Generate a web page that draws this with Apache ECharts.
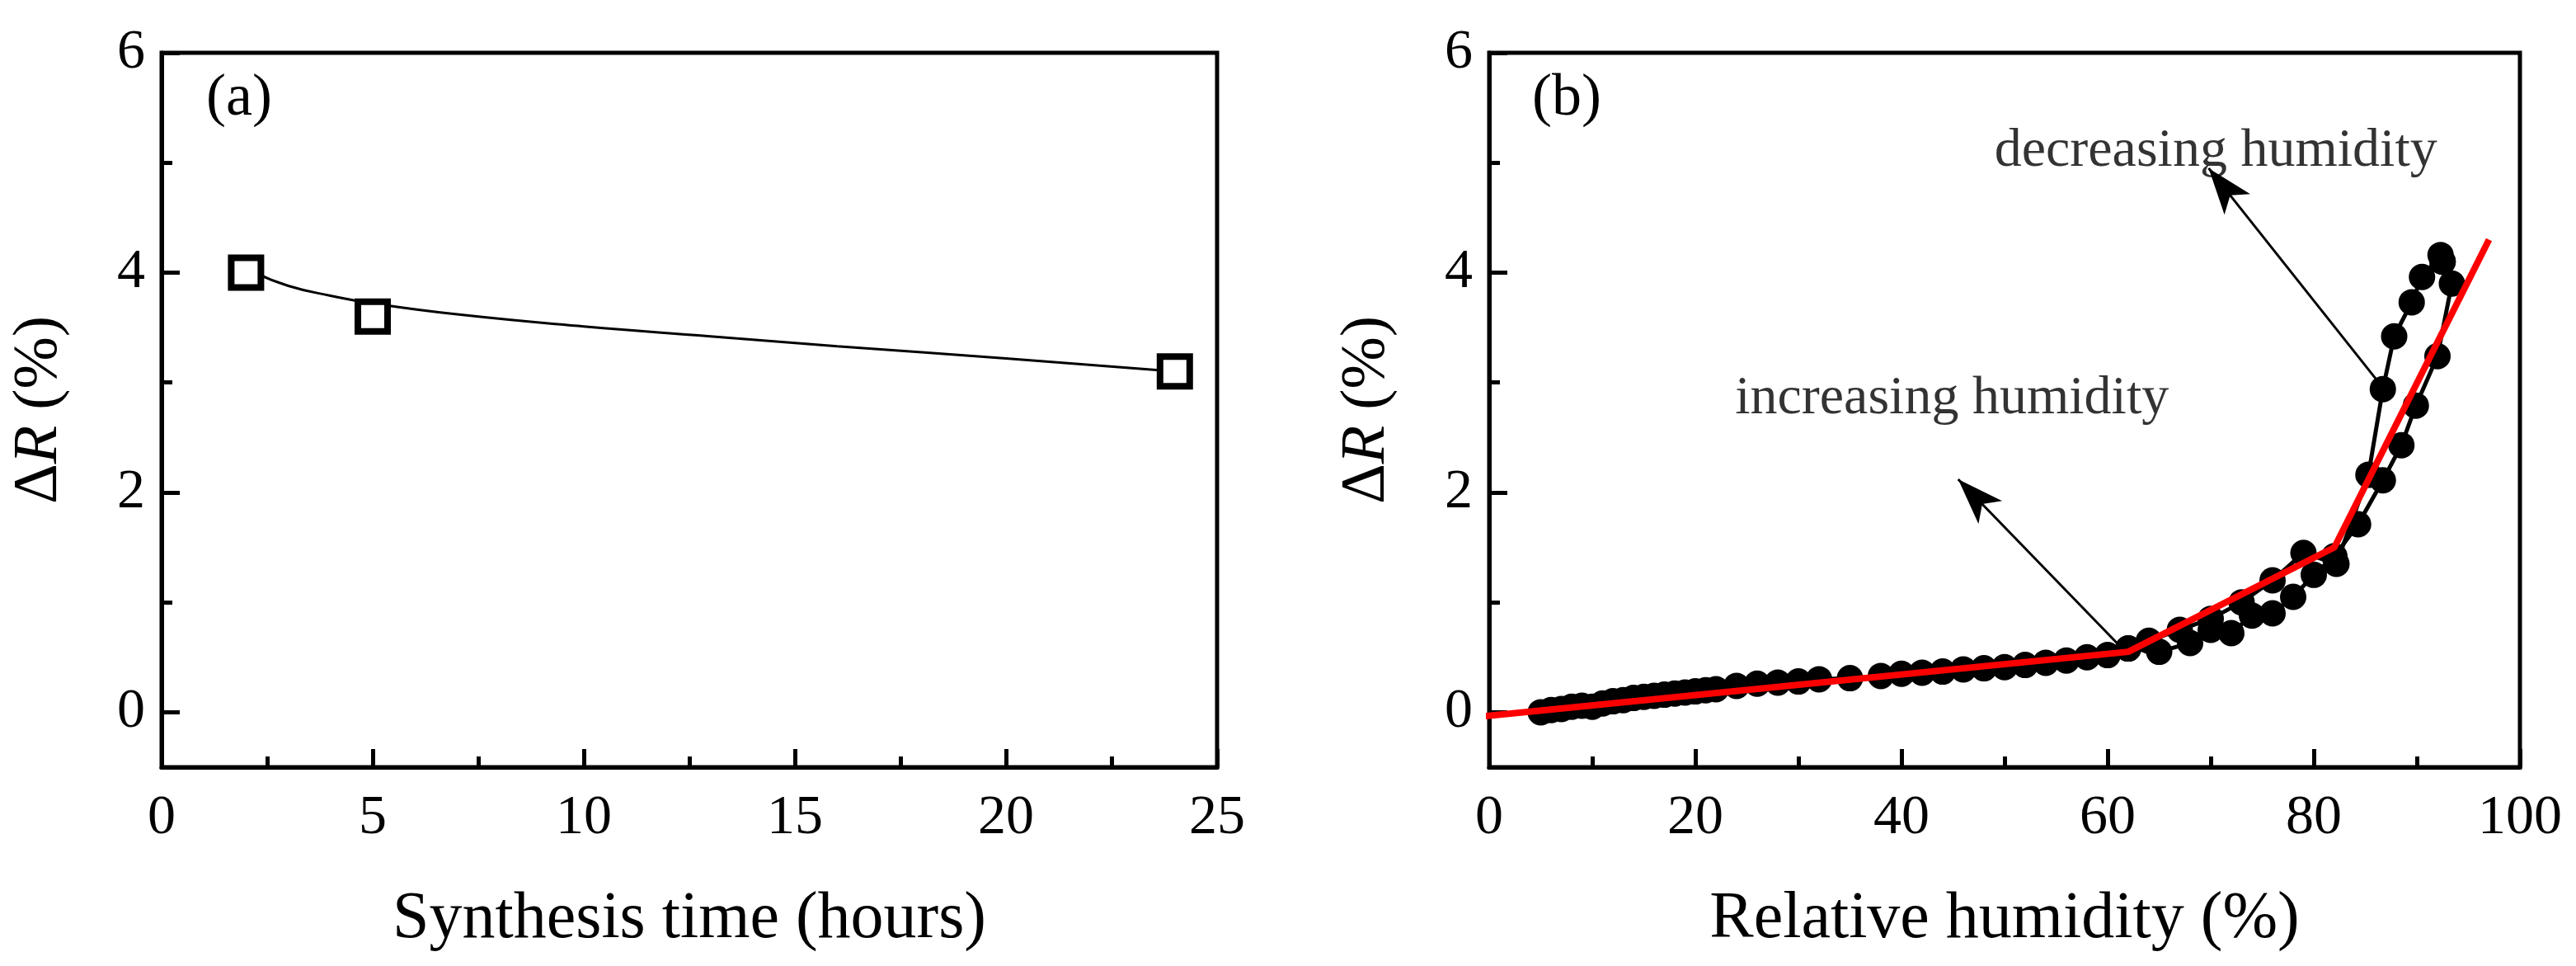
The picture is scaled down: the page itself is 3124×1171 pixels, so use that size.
<!DOCTYPE html>
<html>
<head>
<meta charset="utf-8">
<script src="https://cdn.jsdelivr.net/npm/echarts@6/dist/echarts.min.js"></script>
<style>html,body{margin:0;background:#fff}#main{width:3124px;height:1171px}</style>
</head>
<body>
<div id="main"></div>
<script>
// panel (a): synthesis time vs ΔR
var timeHours = [2, 5, 24];
var deltaRA = [4.0, 3.6, 3.1];
var fitA = [[2.2, 4.0], [3, 3.88], [4, 3.79], [5, 3.72], [7, 3.62], [10, 3.51], [13, 3.42], [16, 3.33], [20, 3.22], [24, 3.1]];

// panel (b): relative humidity sweep
var rhUp = [[5,0],[6,0.02],[7,0.03],[8,0.05],[9,0.06],[10,0.05],[11,0.08],[12,0.1],[13,0.11],[14,0.13],[15,0.14],[16,0.15],[17,0.16],[18,0.17],[19,0.18],[20,0.19],[21,0.2],[22,0.21],[24,0.24],[26,0.26],[28,0.27],[30,0.28],[32,0.3],[35,0.31],[38,0.33],[40,0.35],[42,0.36],[44,0.37],[46,0.39],[48,0.4],[50,0.41],[52,0.43],[54,0.45],[56,0.47],[58,0.5],[60,0.52],[62,0.58],[65,0.55],[68,0.63],[70,0.75],[72,0.72],[74,0.88],[76,0.9],[78,1.05],[80,1.25],[82,1.42],[84.3,1.71],[86.7,2.11],[88.5,2.43],[89.9,2.79],[92,3.24],[93.4,3.9],[92.5,4.1]];
var rhDown = [[92.5,4.1],[92.3,4.16],[90.5,3.96],[89.5,3.73],[87.8,3.42],[86.7,2.94],[85.3,2.16],[82.2,1.35],[79,1.45],[76,1.2],[73,1.0],[70,0.85],[67,0.75],[64,0.65],[62,0.58]];
var fitB = [[-2,-0.05],[62,0.55],[82,1.5],[97,4.3]];
var yTicks = [0, 2, 4, 6];
var yMinor = [1, 3, 5];

var font = "'Liberation Serif', 'DejaVu Serif', serif";
var chart = echarts.init(document.getElementById('main'));

function xAxisCfg(idx, max, interval, name) {
  return {
    type: 'value', gridIndex: idx, min: 0, max: max, interval: interval,
    name: name, nameLocation: 'middle', nameGap: 145,
    nameTextStyle: {fontFamily: font, fontSize: 80, color: '#000'},
    axisLine: {onZero: false, lineStyle: {color: '#000', width: 5}},
    axisTick: {inside: true, length: 22, lineStyle: {color: '#000', width: 5}},
    minorTick: {show: true, splitNumber: 2, length: 13, lineStyle: {color: '#000', width: 5}},
    axisLabel: {fontFamily: font, fontSize: 68, color: '#000', margin: 28},
    splitLine: {show: false}
  };
}
function yAxisCfg(idx) {
  return {
    type: 'value', gridIndex: idx, min: -0.5, max: 6,
    name: '{n|Δ}{i|R}{n| (%)}', nameLocation: 'middle', nameGap: 110,
    nameTextStyle: {rich: {n: {fontFamily: font, fontSize: 76, color: '#000'}, i: {fontFamily: font, fontSize: 76, fontStyle: 'italic', color: '#000'}}},
    axisLine: {onZero: false, lineStyle: {color: '#000', width: 5}},
    axisTick: {inside: true, length: 22, customValues: yTicks, lineStyle: {color: '#000', width: 5}},
    axisLabel: {fontFamily: font, fontSize: 68, color: '#000', margin: 20, customValues: yTicks},
    splitLine: {show: false}
  };
}
function yMinorCfg(idx) {
  return {
    type: 'value', gridIndex: idx, min: -0.5, max: 6, position: 'left',
    axisLine: {show: false},
    axisTick: {inside: true, length: 13, customValues: yMinor, lineStyle: {color: '#000', width: 5}},
    axisLabel: {show: false}, splitLine: {show: false}
  };
}

chart.setOption({
  backgroundColor: '#fff',
  animation: false,
  grid: [
    {left: 196, width: 1280, top: 64, height: 866, show: true, borderColor: '#000', borderWidth: 5},
    {left: 1806, width: 1250, top: 64, height: 866, show: true, borderColor: '#000', borderWidth: 5}
  ],
  xAxis: [
    xAxisCfg(0, 25, 5, 'Synthesis time (hours)'),
    xAxisCfg(1, 100, 20, 'Relative humidity (%)')
  ],
  yAxis: [yAxisCfg(0), yAxisCfg(1), yMinorCfg(0), yMinorCfg(1)],
  graphic: [
    {type: 'text', left: 250, top: 84, style: {text: '(a)', font: "72px 'Liberation Serif', serif", fill: '#000'}},
    {type: 'text', left: 1858, top: 84, style: {text: '(b)', font: "72px 'Liberation Serif', serif", fill: '#000'}}
  ],
  series: [
    {type: 'line', xAxisIndex: 0, yAxisIndex: 0, data: fitA, smooth: true, showSymbol: false,
     lineStyle: {color: '#000', width: 3}},
    {type: 'scatter', xAxisIndex: 0, yAxisIndex: 0, data: timeHours.map(function (t, i) { return [t, deltaRA[i]]; }),
     symbol: 'rect', symbolSize: 36, itemStyle: {color: '#fff', borderColor: '#000', borderWidth: 8, opacity: 1}, z: 5},
    {type: 'line', xAxisIndex: 1, yAxisIndex: 1, data: rhUp, symbol: 'circle', symbolSize: 32,
     lineStyle: {color: '#000', width: 5}, itemStyle: {color: '#000'}},
    {type: 'line', xAxisIndex: 1, yAxisIndex: 1, data: rhDown, symbol: 'circle', symbolSize: 32,
     lineStyle: {color: '#000', width: 5}, itemStyle: {color: '#000'},
     markLine: {silent: true, symbol: ['none', 'arrow'], symbolSize: [30, 56], label: {show: false},
       lineStyle: {color: '#000', width: 3, type: 'solid'},
       data: [
         [{coord: [61, 0.62]}, {coord: [45.5, 2.12]}],
         [{coord: [86.3, 3.0]}, {coord: [69.8, 4.95]}]
       ]}},
    {type: 'line', xAxisIndex: 1, yAxisIndex: 1, data: fitB, showSymbol: false,
     lineStyle: {color: '#ff0000', width: 8}, z: 6},
    {type: 'scatter', xAxisIndex: 1, yAxisIndex: 1, symbolSize: 0, silent: true,
     data: [
       {value: [44.9, 2.85], label: {formatter: 'increasing humidity'}},
       {value: [70.5, 5.1], label: {formatter: 'decreasing humidity'}}
     ],
     label: {show: true, position: 'inside', fontFamily: font, fontSize: 66, color: '#000'}}
  ]
});
</script>
</body>
</html>
